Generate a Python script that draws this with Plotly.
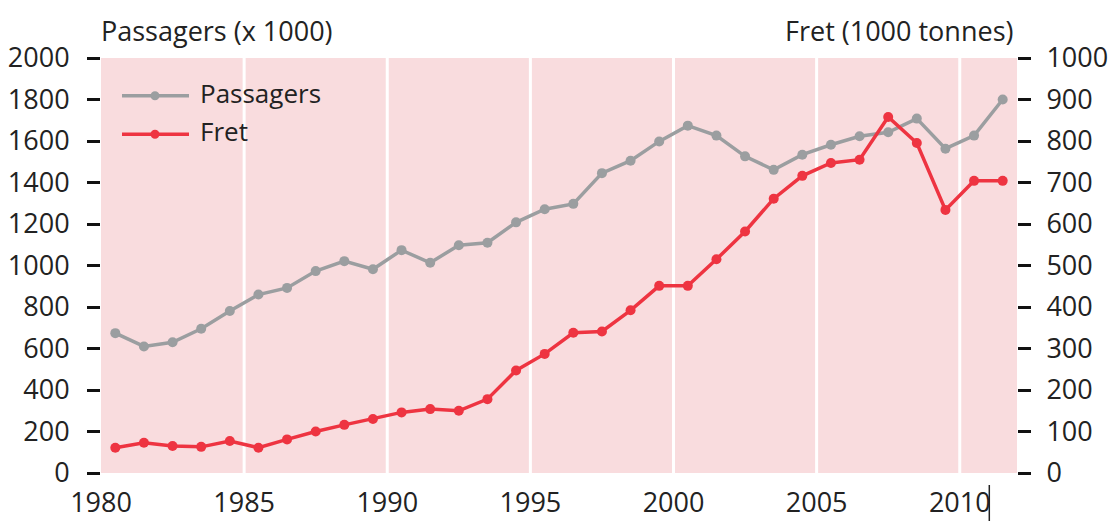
import plotly.graph_objects as go

years = list(range(1980, 2012))
passagers = [674, 610, 630, 695, 781, 860, 892, 973, 1021, 982,
             1074, 1013, 1098, 1110, 1208, 1271, 1297, 1445, 1505, 1598,
             1674, 1626, 1526, 1461, 1534, 1582, 1623, 1642, 1708, 1563,
             1626, 1800]
fret = [61, 73, 65, 63, 77, 61, 81, 100, 116, 130,
        146, 154, 150, 178, 247, 287, 338, 341, 392, 451,
        451, 515, 582, 661, 716, 747, 755, 858, 795, 634,
        704, 704]
x_ticks = [1980, 1985, 1990, 1995, 2000, 2005, 2010]
y_left_ticks = list(range(0, 2001, 200))
y_right_ticks = list(range(0, 1001, 100))
series_names = ["Passagers", "Fret"]
left_title = "Passagers (x 1000)"
right_title = "Fret (1000 tonnes)"

GRAY = "#9b9ea0"
RED = "#ee3441"
PINK = "#f9dcde"
FONT = "Open Sans"
FS = 26
FS_TITLE = 27
FS_TICK = 27

W, H = 1110, 521
ML, MR, MT, MB = 101, 93, 58, 48
PW, PH = W - ML - MR, H - MT - MB

def px(x):
    return (x - ML) / PW

def py(y):
    return (H - MB - y) / PH

xmid = [y + 0.5 for y in years]

fig = go.Figure()
fig.add_trace(go.Scatter(x=xmid, y=passagers, mode="lines+markers", name=series_names[0],
                         line=dict(color=GRAY, width=3.5), marker=dict(color=GRAY, size=10),
                         showlegend=False, hoverinfo="skip"))
fig.add_trace(go.Scatter(x=xmid, y=fret, mode="lines+markers", name=series_names[1], yaxis="y2",
                         line=dict(color=RED, width=3.5), marker=dict(color=RED, size=10),
                         showlegend=False, hoverinfo="skip"))

shapes = []
for t in x_ticks[1:]:
    shapes.append(dict(type="line", xref="x", yref="paper", x0=t, x1=t, y0=0, y1=1,
                       line=dict(color="white", width=3), layer="below"))

# custom legend
annotations = []
legend_rows = [(series_names[0], GRAY, 95.7), (series_names[1], RED, 134.3)]
for name, col, yy in legend_rows:
    shapes.append(dict(type="line", xref="paper", yref="paper", x0=px(122), x1=px(189),
                       y0=py(yy), y1=py(yy), line=dict(color=col, width=3.5)))
    shapes.append(dict(type="circle", xref="paper", yref="paper", x0=px(150.5), x1=px(159.5),
                       y0=py(yy + 4.5), y1=py(yy - 4.5), fillcolor=col, line=dict(color=col, width=0)))
    annotations.append(dict(text=name, xref="paper", yref="paper", x=px(198), y=py(yy - 3),
                            xanchor="left", yanchor="middle", showarrow=False,
                            font=dict(family=FONT, size=FS, color="#222")))

annotations.append(dict(text=left_title, xref="paper", yref="paper", x=px(99), y=py(31),
                        xanchor="left", yanchor="middle", showarrow=False,
                        font=dict(family=FONT, size=FS_TITLE, color="#222")))
annotations.append(dict(text=right_title, xref="paper", yref="paper", x=px(1015), y=py(31),
                        xanchor="right", yanchor="middle", showarrow=False,
                        font=dict(family=FONT, size=FS_TITLE, color="#222")))

# small vertical bar after the last x label
shapes.append(dict(type="line", xref="paper", yref="paper", x0=px(989.3), x1=px(989.3),
                   y0=py(485), y1=py(521), line=dict(color="#222", width=1.5)))

fig.update_layout(
    width=W, height=H,
    margin=dict(l=ML, r=MR, t=MT, b=MB, autoexpand=False),
    paper_bgcolor="white", plot_bgcolor=PINK,
    font=dict(family=FONT, size=FS, color="#222"),
    showlegend=False, hovermode=False,
    shapes=shapes, annotations=annotations,
    xaxis=dict(range=[1980, 2012], tickvals=x_ticks, showgrid=False, zeroline=False,
               showline=False, ticks="", tickfont=dict(size=FS_TICK), ticklabelstandoff=11,
               automargin=False),
    yaxis=dict(range=[0, 2000], tickvals=y_left_ticks, showgrid=False, zeroline=False,
               showline=False, ticks="outside", ticklen=13, tickwidth=3, tickcolor="#111",
               tickfont=dict(size=FS_TICK), ticklabelstandoff=12, automargin=False),
    yaxis2=dict(range=[0, 1000], tickvals=y_right_ticks, overlaying="y", side="right",
                showgrid=False, zeroline=False, showline=False, ticks="outside", ticklen=13,
                tickwidth=3, tickcolor="#111", tickfont=dict(size=FS_TICK), ticklabelstandoff=10,
                automargin=False),
)

fig.write_html("out.html", config={"displayModeBar": False, "staticPlot": True},
               post_script="document.body.style.margin='0';document.body.style.padding='0';"
                           "document.body.style.overflow='hidden';")
